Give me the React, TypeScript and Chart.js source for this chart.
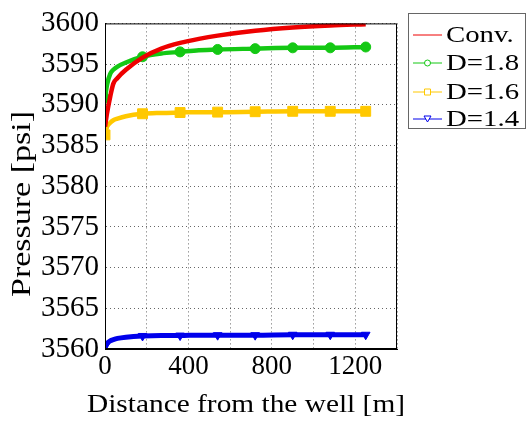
import React, { useEffect, useRef } from "react";
import { Chart, registerables } from "chart.js";

Chart.register(...registerables);

// Distance from the well [m] at which pressure is sampled
const distances = [0, 10, 25, 40, 60, 100, 180, 270, 360, 450, 540, 720, 900, 1080, 1250];
// Distances where markers are shown
const markerDistances = [0, 180, 360, 540, 720, 900, 1080, 1250];

// Pressure profiles [psi]
const convPressure = [3587.3, 3589.0, 3591.0, 3592.6, 3593.3, 3594.3, 3595.8, 3596.9, 3597.6, 3598.1, 3598.5, 3599.1, 3599.5, 3599.75, 3599.9];
const d18Pressure = [3590.8, 3592.5, 3593.8, 3594.3, 3594.7, 3595.2, 3595.9, 3596.3, 3596.5, 3596.7, 3596.8, 3596.9, 3597.0, 3597.0, 3597.1];
const d16Pressure = [3586.3, 3587.3, 3587.8, 3588.1, 3588.3, 3588.6, 3588.9, 3589.0, 3589.05, 3589.1, 3589.1, 3589.15, 3589.2, 3589.2, 3589.2];
const d14Pressure = [3560.3, 3560.7, 3561.0, 3561.15, 3561.3, 3561.45, 3561.6, 3561.65, 3561.65, 3561.7, 3561.7, 3561.7, 3561.75, 3561.75, 3561.75];

const seriesLabels = ["Conv.", "D=1.8", "D=1.6", "D=1.4"];
const xTickLabels = [0, 400, 800, 1200];
const xTitle = "Distance from the well [m]";
const yTitle = "Pressure [psi]";

const SERIF = "'Liberation Serif', 'Times New Roman', Times, serif";

const toPoints = (ys: number[]) => distances.map((x, i) => ({ x, y: ys[i] }));

// draws text at (x, y), widened along its baseline by the factor stretch
function wideText(
  ctx: CanvasRenderingContext2D,
  text: string,
  x: number,
  y: number,
  size: number,
  stretch: number,
  align: CanvasTextAlign,
  rotate: boolean
) {
  ctx.save();
  ctx.font = `${size}px ${SERIF}`;
  ctx.fillStyle = "#000";
  ctx.textAlign = align;
  ctx.textBaseline = "middle";
  ctx.translate(x, y);
  if (rotate) ctx.rotate(-Math.PI / 2);
  ctx.scale(stretch, 1);
  ctx.fillText(text, 0, 0);
  ctx.restore();
}

const frameAndLegend = {
  id: "frameAndLegend",
  afterDraw(chart: any) {
    const { ctx, chartArea } = chart;
    ctx.save();
    // full frame around the plot area
    ctx.strokeStyle = "#000";
    ctx.lineWidth = 1;
    ctx.strokeRect(chartArea.left + 0.5, chartArea.top + 0.5, chartArea.right - chartArea.left - 1, chartArea.bottom - chartArea.top - 1);

    // axis titles
    ctx.font = `26px ${SERIF}`;
    const xw = ctx.measureText(xTitle).width;
    wideText(ctx, xTitle, 246, 405, 26, 318 / xw, "center", false);
    ctx.font = `27px ${SERIF}`;
    const yw = ctx.measureText(yTitle).width;
    wideText(ctx, yTitle, 23, 204, 27, 186 / yw, "center", true);

    // legend box
    const bx = 408.5, by = 13.5, bw = 117, bh = 115;
    ctx.fillStyle = "#fff";
    ctx.fillRect(bx, by, bw, bh);
    ctx.strokeStyle = "#666";
    ctx.lineWidth = 1;
    ctx.strokeRect(bx, by, bw, bh);
    const rows = [35, 63, 92, 119];
    chart.data.datasets.forEach((ds: any, i: number) => {
      const y = rows[i];
      ctx.strokeStyle = ds.borderColor;
      ctx.lineWidth = 1;
      ctx.beginPath();
      ctx.moveTo(413, y);
      ctx.lineTo(442, y);
      ctx.stroke();
      if (ds.legendMarker) {
        ctx.beginPath();
        if (ds.legendMarker === "circle") {
          ctx.arc(427.5, y, 3, 0, Math.PI * 2);
        } else if (ds.legendMarker === "rect") {
          ctx.rect(424.5, y - 3, 6, 6);
        } else {
          ctx.moveTo(424, y - 3);
          ctx.lineTo(431, y - 3);
          ctx.lineTo(427.5, y + 3);
          ctx.closePath();
        }
        ctx.fillStyle = "#fff";
        ctx.fill();
        ctx.stroke();
      }
      wideText(ctx, ds.label, 446, y + 1, 24, 1.2, "left", false);
    });
    ctx.restore();
  },
};

export default function App() {
  const canvasRef = useRef<HTMLCanvasElement | null>(null);

  useEffect(() => {
    const canvas = canvasRef.current;
    if (!canvas) return;
    let chart: Chart | null = null;
    let cancelled = false;

    const build = () => {
      if (cancelled) return;
      const markerRadius = (r: number) => (c: any) =>
        markerDistances.includes(c.raw?.x) ? r : 0;

      const common = {
        borderWidth: 4.5,
        pointBorderWidth: 1,
        cubicInterpolationMode: "monotone",
      };

      const dotted = { display: true, color: "#000", dash: [1, 3] } as any;

      chart = new Chart(canvas, {
        type: "line",
        data: {
          datasets: [
            {
              ...common,
              label: seriesLabels[0],
              data: toPoints(convPressure),
              borderColor: "rgb(238,0,0)",
              backgroundColor: "rgb(238,0,0)",
              pointRadius: 0,
            },
            {
              ...common,
              label: seriesLabels[1],
              data: toPoints(d18Pressure),
              borderColor: "rgb(20,200,20)",
              backgroundColor: "rgb(20,200,20)",
              pointRadius: markerRadius(5),
              pointStyle: "circle",
              legendMarker: "circle",
            },
            {
              ...common,
              label: seriesLabels[2],
              data: toPoints(d16Pressure),
              borderColor: "rgb(255,200,0)",
              backgroundColor: "rgb(255,200,0)",
              pointRadius: markerRadius(7),
              pointStyle: "rect",
              legendMarker: "rect",
            },
            {
              ...common,
              label: seriesLabels[3],
              data: toPoints(d14Pressure),
              borderColor: "rgb(0,0,235)",
              backgroundColor: "rgb(0,0,235)",
              borderWidth: 5,
              pointRadius: markerRadius(5),
              pointStyle: "triangle",
              pointRotation: 180,
              legendMarker: "triangle",
            },
          ] as any,
        },
        options: {
          responsive: false,
          animation: false,
          devicePixelRatio: 1,
          layout: { padding: { left: 0, right: 131, top: 15, bottom: 0 } },
          plugins: { legend: { display: false }, tooltip: { enabled: false } },
          scales: {
            x: {
              type: "linear",
              min: 0,
              max: 1400,
              afterFit: (s: any) => {
                s.height = 72;
              },
              ticks: {
                stepSize: 200,
                autoSkip: false,
                maxRotation: 0,
                padding: 2,
                color: "#000",
                font: { family: SERIF, size: 27 },
                callback: (v: any) => (xTickLabels.includes(Number(v)) ? String(v) : ""),
              },
              grid: { color: "rgba(0,0,0,0.6)", lineWidth: 1, drawTicks: false },
              border: dotted,
            },
            y: {
              min: 3560,
              max: 3600,
              afterFit: (s: any) => {
                s.width = 105;
              },
              ticks: {
                stepSize: 5,
                padding: 6,
                color: "#000",
                font: { family: SERIF, size: 29 },
                callback: (v: any) => String(v),
              },
              grid: { color: "rgba(0,0,0,0.6)", lineWidth: 1, drawTicks: false },
              border: dotted,
            },
          },
        },
        plugins: [frameAndLegend],
      });
    };

    const fonts = (document as any).fonts;
    if (fonts && fonts.load) {
      Promise.all([
        fonts.load("26px 'Liberation Serif'"),
        fonts.load("26px 'Times New Roman'"),
      ]).then(build, build);
    } else {
      build();
    }

    return () => {
      cancelled = true;
      if (chart) chart.destroy();
    };
  }, []);

  return (
    <div style={{ position: "absolute", left: 0, top: 0, width: 528, height: 421, background: "#fff" }}>
      <canvas ref={canvasRef} width={528} height={421} />
    </div>
  );
}
